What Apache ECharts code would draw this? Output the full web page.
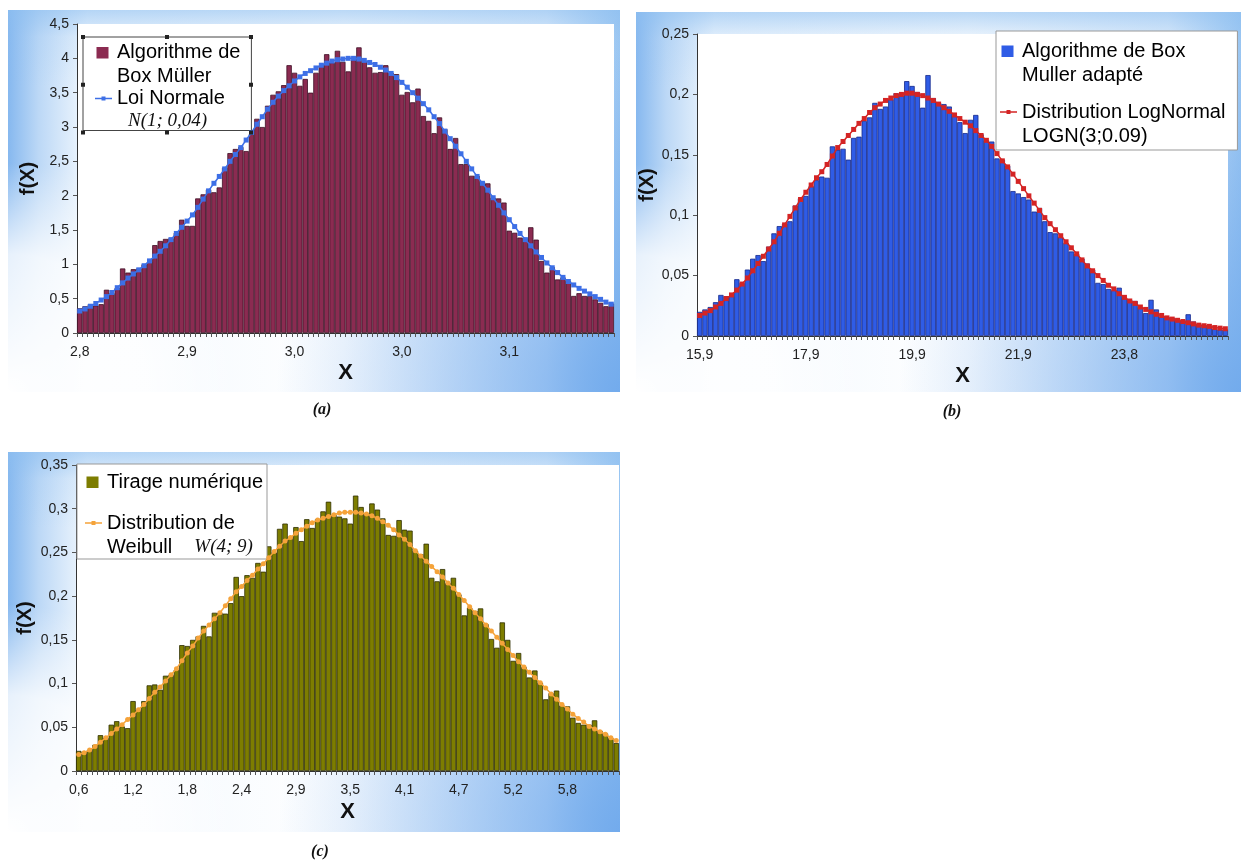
<!DOCTYPE html>
<html>
<head>
<meta charset="utf-8">
<script src="https://cdn.jsdelivr.net/npm/echarts@6/dist/echarts.min.js"></script>
<style>
html,body{margin:0;padding:0;background:#ffffff;}
#chart{width:1245px;height:863px;}
</style>
</head>
<body>
<div id="chart"></div>
<script>
// ---------- DATA ----------
// Panel (a): Box-Muller histogram vs normal law N(1; 0,04)
const ticksA = ['2,8', '2,9', '3,0', '3,0', '3,1'];
const barsA = [
  0.36,0.39,0.42,0.40,0.42,0.63,0.58,0.66,0.94,0.88,
  0.93,0.94,1.00,1.04,1.28,1.34,1.37,1.38,1.46,1.65,
  1.56,1.56,1.96,2.02,2.09,2.05,2.12,2.41,2.62,2.68,
  2.71,2.65,2.90,3.12,3.00,3.31,3.47,3.52,3.61,3.90,
  3.79,3.60,3.70,3.50,3.79,3.90,4.06,3.94,4.11,3.95,
  3.81,3.98,4.16,3.96,3.87,3.79,3.80,3.90,3.79,3.77,
  3.47,3.51,3.36,3.56,3.16,3.09,2.91,3.14,2.97,2.68,
  2.84,2.46,2.46,2.29,2.29,2.20,2.18,1.97,1.96,1.90,
  1.49,1.46,1.39,1.38,1.54,1.36,1.05,0.88,0.96,0.78,
  0.81,0.76,0.54,0.58,0.54,0.54,0.49,0.44,0.39,0.43
];
const curveA = [
  0.32,0.35,0.39,0.43,0.48,0.53,0.59,0.66,0.73,0.80,
  0.86,0.92,0.98,1.05,1.12,1.19,1.27,1.36,1.45,1.54,
  1.63,1.72,1.83,1.95,2.07,2.18,2.28,2.39,2.50,2.60,
  2.70,2.81,2.92,3.04,3.15,3.26,3.36,3.45,3.53,3.60,
  3.67,3.73,3.78,3.82,3.86,3.90,3.93,3.96,3.98,3.99,
  4.00,4.00,3.99,3.97,3.94,3.91,3.87,3.83,3.78,3.72,
  3.65,3.58,3.50,3.42,3.34,3.25,3.15,3.05,2.94,2.83,
  2.72,2.61,2.50,2.39,2.28,2.18,2.08,1.97,1.86,1.75,
  1.65,1.55,1.45,1.36,1.27,1.18,1.10,1.02,0.95,0.88,
  0.81,0.75,0.70,0.65,0.61,0.57,0.53,0.49,0.45,0.42
];

// Panel (b): adapted Box-Muller histogram vs LogNormal LOGN(3;0.09)
const ticksB = ['15,9', '17,9', '19,9', '21,9', '23,8'];
const barsB = [
  0.020,0.022,0.024,0.028,0.034,0.033,0.033,0.047,0.044,0.055,
  0.064,0.067,0.062,0.074,0.085,0.091,0.093,0.095,0.108,0.114,
  0.116,0.124,0.129,0.132,0.131,0.157,0.154,0.155,0.146,0.164,
  0.165,0.178,0.181,0.193,0.188,0.190,0.196,0.201,0.199,0.211,
  0.207,0.202,0.189,0.216,0.197,0.193,0.192,0.190,0.182,0.177,
  0.168,0.179,0.183,0.167,0.162,0.161,0.147,0.146,0.141,0.120,
  0.118,0.115,0.113,0.103,0.106,0.095,0.086,0.085,0.082,0.077,
  0.070,0.068,0.064,0.060,0.055,0.044,0.043,0.039,0.038,0.040,
  0.032,0.030,0.029,0.024,0.019,0.030,0.022,0.016,0.016,0.015,
  0.013,0.013,0.018,0.012,0.010,0.009,0.008,0.006,0.0055,0.0055
];
const curveB = [
  0.017,0.019,0.021,0.024,0.027,0.031,0.034,0.038,0.043,0.048,
  0.054,0.060,0.066,0.072,0.078,0.085,0.092,0.099,0.106,0.113,
  0.119,0.125,0.131,0.136,0.142,0.149,0.156,0.161,0.166,0.171,
  0.176,0.180,0.185,0.189,0.192,0.195,0.197,0.199,0.200,0.201,
  0.201,0.200,0.199,0.197,0.195,0.192,0.189,0.186,0.183,0.180,
  0.177,0.174,0.170,0.166,0.162,0.157,0.151,0.145,0.140,0.134,
  0.128,0.122,0.116,0.110,0.104,0.098,0.093,0.088,0.083,0.078,
  0.073,0.068,0.063,0.058,0.054,0.050,0.046,0.042,0.039,0.035,
  0.032,0.029,0.027,0.024,0.022,0.020,0.018,0.017,0.015,0.014,
  0.013,0.012,0.011,0.010,0.009,0.0085,0.008,0.007,0.0065,0.006
];

// Panel (c): numerical draw vs Weibull W(4; 9)
const ticksC = ['0,6', '1,2', '1,8', '2,4', '2,9', '3,5', '4,1', '4,7', '5,2', '5,8'];
const barsC = [
  0.023,0.022,0.024,0.030,0.041,0.038,0.053,0.057,0.051,0.049,
  0.080,0.070,0.080,0.098,0.099,0.093,0.109,0.110,0.116,0.144,
  0.143,0.150,0.154,0.166,0.154,0.181,0.181,0.180,0.192,0.222,
  0.200,0.224,0.221,0.238,0.228,0.257,0.250,0.277,0.283,0.268,
  0.279,0.263,0.288,0.278,0.288,0.297,0.308,0.293,0.291,0.289,
  0.283,0.315,0.302,0.295,0.306,0.299,0.289,0.270,0.269,0.287,
  0.276,0.275,0.252,0.248,0.260,0.221,0.217,0.231,0.215,0.221,
  0.202,0.178,0.187,0.183,0.186,0.168,0.151,0.141,0.170,0.150,
  0.126,0.135,0.119,0.107,0.115,0.101,0.082,0.089,0.092,0.075,
  0.074,0.061,0.055,0.053,0.053,0.058,0.046,0.043,0.038,0.032
];
const curveC = [
  0.019,0.021,0.024,0.028,0.033,0.038,0.043,0.048,0.053,0.059,
  0.064,0.070,0.076,0.083,0.090,0.096,0.103,0.110,0.117,0.126,
  0.135,0.143,0.152,0.160,0.167,0.174,0.181,0.189,0.197,0.205,
  0.211,0.218,0.224,0.231,0.237,0.244,0.251,0.257,0.263,0.267,
  0.272,0.276,0.280,0.284,0.287,0.289,0.291,0.293,0.295,0.296,
  0.296,0.296,0.295,0.294,0.292,0.289,0.285,0.281,0.276,0.270,
  0.265,0.259,0.252,0.246,0.240,0.234,0.228,0.222,0.215,0.209,
  0.202,0.195,0.188,0.181,0.174,0.167,0.160,0.153,0.146,0.139,
  0.132,0.125,0.119,0.113,0.107,0.101,0.095,0.088,0.082,0.076,
  0.071,0.065,0.060,0.056,0.051,0.048,0.045,0.042,0.038,0.035
];

// Legend texts
const nameBarA = 'Algorithme de Box Müller';
const nameLineA = 'Loi Normale N(1; 0,04)';
const nameBarB = 'Algorithme de Box Muller adapté';
const nameLineB = 'Distribution LogNormal LOGN(3;0.09)';
const nameBarC = 'Tirage numérique';
const nameLineC = 'Distribution de Weibull W(4; 9)';
const legendLabels = {};
legendLabels[nameBarA] = 'Algorithme de\nBox Müller';
legendLabels[nameLineA] = 'Loi Normale\n{m|N(1; 0,04)}';
legendLabels[nameBarB] = 'Algorithme de Box\nMuller adapté';
legendLabels[nameLineB] = 'Distribution LogNormal\nLOGN(3;0.09)';
legendLabels[nameBarC] = 'Tirage numérique';
legendLabels[nameLineC] = 'Distribution de\nWeibull  {m|W(4; 9)}';

// ---------- CHART ----------
const FONT = "'Liberation Sans', Arial, sans-serif";
const cats = barsA.map(function (_, i) { return String(i); });

const BOUNDS = 'M0,0h0.05v0.05h-0.05zM16.95,35.95h0.05v0.05h-0.05z';
const ICON_SQ_TOP = 'path://' + BOUNDS + 'M1.5,0.5h12v11.5h-12z';
const ICON_SQ_MID = 'path://' + BOUNDS + 'M1.5,12.5h12v11.5h-12z';
const ICON_LINE6 = 'path://' + BOUNDS + 'M0,5.3h17v1.4h-17zM6.5,4h4v4h-4z';
const ICON_LINE8 = 'path://' + BOUNDS + 'M0,7.3h17v1.4h-17zM6.5,6h4v4h-4z';

function xAxisFor(gi, ticks, step, nameGap) {
  return {
    type: 'category', gridIndex: gi, data: cats, boundaryGap: true,
    axisLine: { show: true, lineStyle: { color: '#333', width: 1 } },
    axisTick: { show: true, interval: 0, length: 4, lineStyle: { color: '#555', width: 1 } },
    axisLabel: {
      interval: step - 1, margin: 12, fontSize: 14, fontFamily: FONT, color: '#222',
      formatter: function (v, i) { return (i % step === 0 && ticks[i / step] !== undefined) ? ticks[i / step] : ''; }
    },
    splitLine: { show: false },
    name: 'X', nameLocation: 'middle', nameGap: nameGap,
    nameTextStyle: { fontSize: 22, fontWeight: 'bold', fontFamily: FONT, color: '#111' }
  };
}
function yAxisFor(gi, max, interval, nameGap) {
  return {
    type: 'value', gridIndex: gi, min: 0, max: max, interval: interval,
    axisLine: { show: true, lineStyle: { color: '#333', width: 1 } },
    axisTick: { show: true, length: 4, lineStyle: { color: '#555' } },
    axisLabel: {
      fontSize: 14, fontFamily: FONT, color: '#222', margin: 8,
      formatter: function (v) { return String(+(+v).toFixed(3)).replace('.', ','); }
    },
    splitLine: { show: false },
    name: 'f(X)', nameLocation: 'middle', nameRotate: 90, nameGap: nameGap,
    nameTextStyle: { fontSize: 20, fontWeight: 'bold', fontFamily: FONT, color: '#111' }
  };
}
function barSeries(name, gi, data, fill, border) {
  return {
    type: 'bar', name: name, xAxisIndex: gi, yAxisIndex: gi, data: data,
    barCategoryGap: '0%', barGap: '-100%',
    itemStyle: { color: fill, borderColor: border, borderWidth: 0.8 },
    emphasis: { disabled: true }, z: 2
  };
}
function lineSeries(name, gi, data, color, symbol) {
  return {
    type: 'line', name: name, xAxisIndex: gi, yAxisIndex: gi, data: data,
    symbol: symbol, symbolSize: 5, showSymbol: true, showAllSymbol: true,
    lineStyle: { color: color, width: 1.5 },
    itemStyle: { color: color, borderWidth: 0 },
    emphasis: { disabled: true }, z: 5
  };
}
function legendFor(pos, pad, gap, border, items) {
  return {
    orient: 'vertical', align: 'left', left: pos[0], top: pos[1], padding: pad,
    itemGap: gap, itemWidth: 17, itemHeight: 36, selectedMode: false,
    backgroundColor: '#ffffff', borderColor: border, borderWidth: 1, borderRadius: 0,
    textStyle: {
      fontSize: 20, fontFamily: FONT, color: '#000', lineHeight: 24,
      rich: {
        m: { fontFamily: "'Liberation Serif', 'DejaVu Serif', serif", fontStyle: 'italic', fontSize: 19, lineHeight: 20, color: '#111', padding: [0, 0, 0, 11] }
      }
    },
    data: items.map(function (it) { return { name: it[0], icon: it[1], itemStyle: { borderWidth: 0 } }; }),
    formatter: function (n) { return legendLabels[n]; }
  };
}
function frame(x, y, w, h, plot) {
  const shape = { x: x, y: y, width: w, height: h };
  return [
    { type: 'rect', shape: shape, z: -100, silent: true, style: { fill: { type: 'linear', x: 0, y: 0, x2: 1, y2: 0, colorStops: [
      { offset: 0, color: '#86b8ef' }, { offset: 0.05, color: '#bcd8f6' }, { offset: 0.13, color: '#f2f8fe' },
      { offset: 0.55, color: '#ffffff' }, { offset: 0.88, color: '#e3effc' }, { offset: 1, color: '#9cc7f2' }] } } },
    { type: 'rect', shape: shape, z: -99, silent: true, style: { fill: { type: 'linear', x: 0, y: 0, x2: 0, y2: 1, colorStops: [
      { offset: 0, color: 'rgba(140,190,240,0.6)' }, { offset: 0.07, color: 'rgba(140,190,240,0.15)' },
      { offset: 0.2, color: 'rgba(140,190,240,0)' }, { offset: 1, color: 'rgba(140,190,240,0)' }] } } },
    { type: 'rect', shape: shape, z: -98, silent: true, style: { fill: { type: 'radial', x: 0, y: 1, r: 0.6, colorStops: [
      { offset: 0, color: 'rgba(255,255,255,1)' }, { offset: 0.6, color: 'rgba(255,255,255,0.8)' },
      { offset: 1, color: 'rgba(255,255,255,0)' }] } } },
    { type: 'rect', shape: shape, z: -97, silent: true, style: { fill: { type: 'radial', x: 1, y: 1, r: 0.9, colorStops: [
      { offset: 0, color: 'rgba(110,168,236,0.9)' }, { offset: 1, color: 'rgba(110,168,236,0)' }] } } },
    { type: 'rect', shape: { x: plot[0], y: plot[1], width: plot[2], height: plot[3] }, z: -96, silent: true, style: { fill: '#ffffff' } }
  ];
}
function caption(txt, x, y) {
  return { type: 'text', x: x, y: y, z: 10, silent: true,
    style: { text: txt, font: "italic bold 16px 'Liberation Serif', serif", fill: '#111', textAlign: 'center', textVerticalAlign: 'middle' } };
}
function handles(x0, x1, y0, y1) {
  const xs = [x0, (x0 + x1) / 2, x1], ys = [y0, (y0 + y1) / 2, y1], out = [];
  xs.forEach(function (hx, i) { ys.forEach(function (hy, j) {
    if (i === 1 && j === 1) return;
    out.push({ type: 'rect', z: 20, silent: true, shape: { x: hx - 2, y: hy - 2, width: 4, height: 4 }, style: { fill: '#222' } });
  }); });
  return out;
}

const gridA = [77, 24, 537, 309];
const gridB = [697, 34, 531, 302];
const gridC = [76, 465, 543, 306];

const option = {
  animation: false,
  backgroundColor: '#ffffff',
  grid: [gridA, gridB, gridC].map(function (g) {
    return { left: g[0], top: g[1], width: g[2], height: g[3], containLabel: false, outerBoundsMode: 'none' };
  }),
  xAxis: [xAxisFor(0, ticksA, 20, 29), xAxisFor(1, ticksB, 20, 29), xAxisFor(2, ticksC, 10, 30)],
  yAxis: [yAxisFor(0, 4.5, 0.5, 39), yAxisFor(1, 0.25, 0.05, 37), yAxisFor(2, 0.35, 0.05, 41)],
  legend: [
    legendFor([83, 37], [3.5, 11, 0, 12], -2, '#444', [[nameBarA, ICON_SQ_TOP], [nameLineA, ICON_LINE8]]),
    legendFor([996, 31], [8, 12, 2, 4], 13, '#999', [[nameBarB, ICON_SQ_TOP], [nameLineB, ICON_LINE6]]),
    legendFor([77, 464], [0, 4, 0, 8], 11, '#999', [[nameBarC, ICON_SQ_MID], [nameLineC, ICON_LINE6]])
  ],
  series: [
    barSeries(nameBarA, 0, barsA, '#8b2b51', '#3e0f24'),
    lineSeries(nameLineA, 0, curveA, '#3d6fe6', 'rect'),
    barSeries(nameBarB, 1, barsB, '#2f5ce6', '#15288a'),
    lineSeries(nameLineB, 1, curveB, '#d42424', 'rect'),
    barSeries(nameBarC, 2, barsC, '#7d7d00', '#2f2f00'),
    lineSeries(nameLineC, 2, curveC, '#f5a33a', 'circle')
  ],
  graphic: { elements: [].concat(
    frame(8, 10, 612, 382, gridA),
    frame(636, 12, 605, 380, gridB),
    frame(8, 452, 612, 380, gridC),
    handles(83, 251, 37, 132.5),
    [caption('(a)', 322, 410), caption('(b)', 952, 412), caption('(c)', 320, 852)]
  ) }
};

const chart = echarts.init(document.getElementById('chart'), null, { renderer: 'canvas' });
chart.setOption(option);
</script>
</body>
</html>
